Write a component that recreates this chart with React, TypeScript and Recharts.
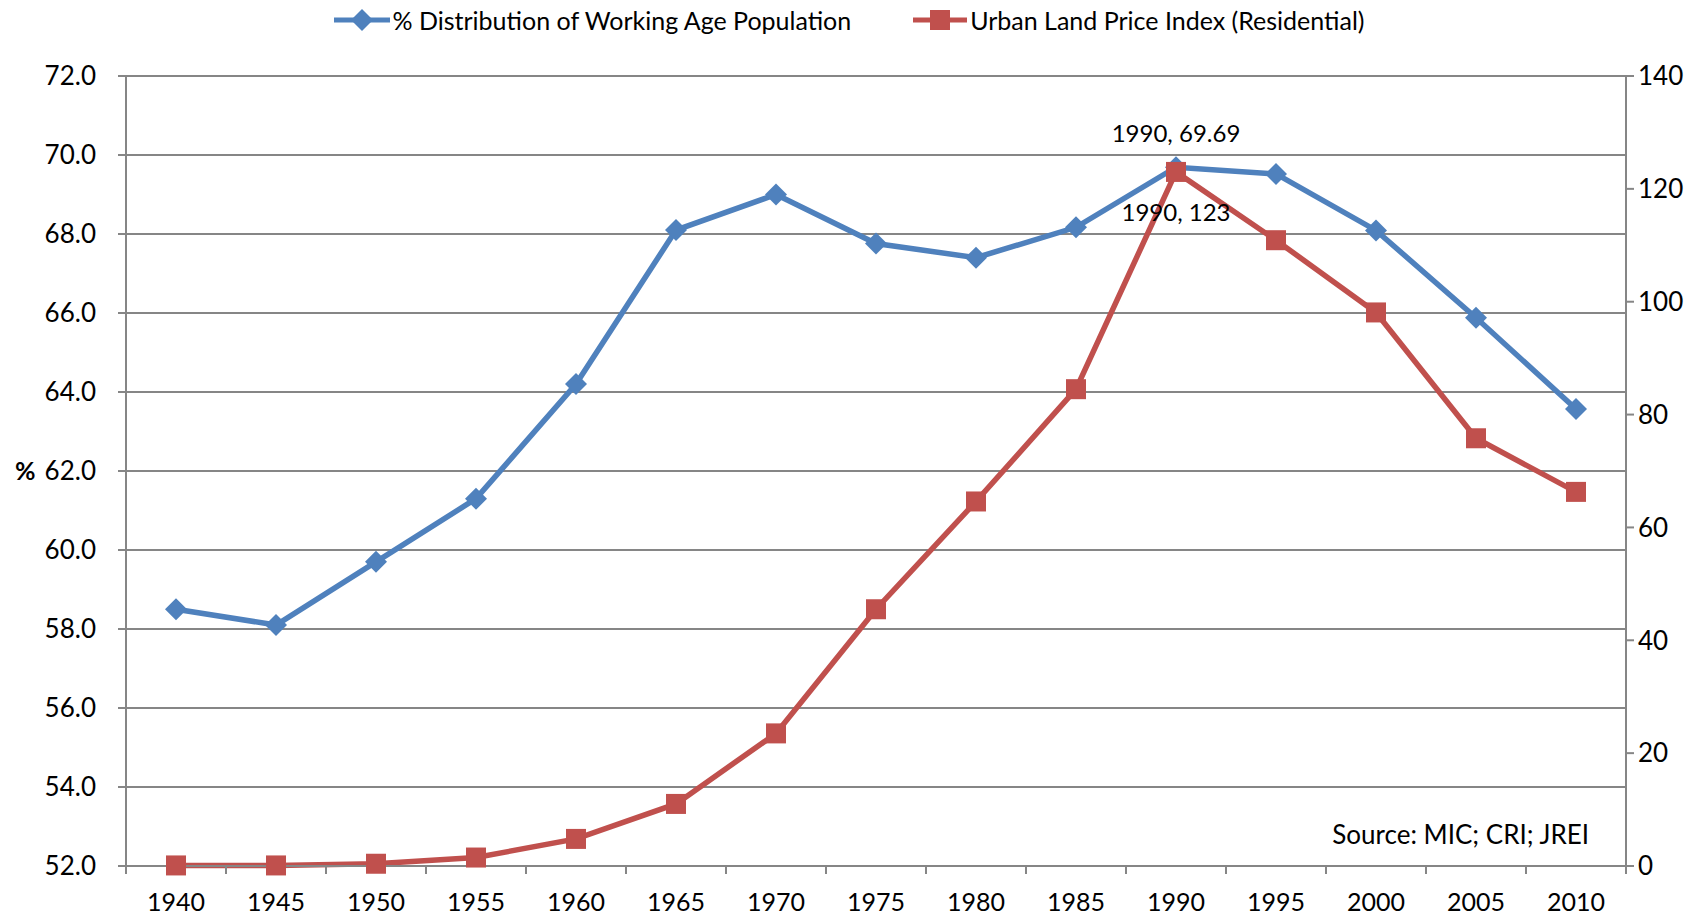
import React from 'react';
import { ComposedChart, Line, XAxis, YAxis, CartesianGrid, Legend, LabelList } from 'recharts';

const years = [1940, 1945, 1950, 1955, 1960, 1965, 1970, 1975, 1980, 1985, 1990, 1995, 2000, 2005, 2010];
const workingAgePct = [58.5, 58.1, 59.7, 61.3, 64.2, 68.1, 69.0, 67.76, 67.4, 68.17, 69.69, 69.52, 68.09, 65.88, 63.57];
const landPriceIndex = [0.1, 0.1, 0.4, 1.5, 4.8, 11.0, 23.5, 45.5, 64.6, 84.5, 123, 110.9, 98.1, 75.8, 66.3];
const leftTicks = [52, 54, 56, 58, 60, 62, 64, 66, 68, 70, 72];
const rightTicks = [0, 20, 40, 60, 80, 100, 120, 140];
const seriesNames = ['% Distribution of Working Age Population', 'Urban Land Price Index (Residential)'];
const sourceText = 'Source: MIC; CRI; JREI';
const labelYear = 1990;

const BLUE = '#4F81BD';
const RED = '#C0504D';
const GRID = '#868686';
const FONT = 'Lato, "Open Sans", sans-serif';
const FS = 25;
const TICK_FS = 26;

const data = years.map((y, i) => ({ year: y, pct: workingAgePct[i], price: landPriceIndex[i] }));
const halfStep = (years[1] - years[0]) / 2;
const boundaries = [...years.map((y) => y - halfStep), years[years.length - 1] + halfStep];
const xTicks = [...years, ...boundaries].sort((a, b) => a - b);
const labelIdx = years.indexOf(labelYear);

const Diamond = (props: any) => {
  const { cx, cy } = props;
  if (cx == null || cy == null) return null;
  const r = 11;
  return <polygon points={`${cx},${cy - r} ${cx + r},${cy} ${cx},${cy + r} ${cx - r},${cy}`} fill={BLUE} stroke="none" />;
};

const Square = (props: any) => {
  const { cx, cy } = props;
  if (cx == null || cy == null) return null;
  const s = 20;
  return <rect x={cx - s / 2} y={cy - s / 2} width={s} height={s} fill={RED} stroke="none" />;
};

const XTick = (props: any) => {
  const { x, y, payload } = props;
  const v = payload.value;
  if (years.includes(v)) {
    return (
      <text x={x} y={y + 35} textAnchor="middle" dominantBaseline="central" fontFamily={FONT} fontSize={FS} fill="#000">
        {v}
      </text>
    );
  }
  return <line x1={x} y1={y} x2={x} y2={y + 8} stroke={GRID} strokeWidth={2} />;
};

const renderLegend = () => (
  <div style={{ display: 'flex', justifyContent: 'center', alignItems: 'center', gap: 62, fontFamily: FONT, fontSize: FS, color: '#000', paddingRight: 8 }}>
    <div style={{ display: 'flex', alignItems: 'center' }}>
      <svg width={56} height={24} style={{ marginRight: 3 }}>
        <line x1={0} y1={12} x2={56} y2={12} stroke={BLUE} strokeWidth={5} />
        <polygon points="28,1 39,12 28,23 17,12" fill={BLUE} />
      </svg>
      <span>{seriesNames[0]}</span>
    </div>
    <div style={{ display: 'flex', alignItems: 'center' }}>
      <svg width={54} height={24} style={{ marginRight: 3 }}>
        <line x1={0} y1={12} x2={54} y2={12} stroke={RED} strokeWidth={5} />
        <rect x={17} y={2} width={20} height={20} fill={RED} />
      </svg>
      <span>{seriesNames[1]}</span>
    </div>
  </div>
);

const makeLabel = (dy: number) => (p: any) => {
  if (p.index !== labelIdx) return null;
  const x = p.x ?? p.viewBox?.x;
  const y = p.y ?? p.viewBox?.y;
  return (
    <text x={x} y={y + dy} textAnchor="middle" dominantBaseline="central" fontFamily={FONT} fontSize={24} fill="#000">
      {`${years[labelIdx]}, ${p.value}`}
    </text>
  );
};

export default function App() {
  return (
    <div style={{ position: 'absolute', left: 0, top: 0, width: 1706, height: 917, background: '#fff' }}>
      <ComposedChart width={1706} height={917} data={data} margin={{ top: 76, right: 0, bottom: 0, left: 0 }}>
        <CartesianGrid yAxisId="left" vertical={false} stroke={GRID} strokeWidth={2} />
        <XAxis
          dataKey="year"
          type="number"
          domain={[boundaries[0], boundaries[boundaries.length - 1]]}
          ticks={xTicks}
          interval={0}
          tickLine={false}
          tickSize={0}
          tickMargin={0}
          height={51}
          axisLine={{ stroke: GRID, strokeWidth: 2 }}
          tick={XTick}
        />
        <YAxis
          yAxisId="left"
          domain={[52, 72]}
          ticks={leftTicks}
          interval={0}
          width={126}
          tickSize={8}
          tickMargin={22}
          tickFormatter={(v: number) => v.toFixed(1)}
          axisLine={{ stroke: GRID, strokeWidth: 2 }}
          tickLine={{ stroke: GRID, strokeWidth: 2 }}
          tick={{ fontFamily: FONT, fontSize: TICK_FS, fill: '#000' }}
          label={{ value: '%', position: 'insideLeft', offset: 15, fontFamily: FONT, fontSize: FS, fontWeight: 'bold', fill: '#000' }}
        />
        <YAxis
          yAxisId="right"
          orientation="right"
          domain={[0, 140]}
          ticks={rightTicks}
          interval={0}
          width={80}
          tickSize={8}
          tickMargin={4}
          axisLine={{ stroke: GRID, strokeWidth: 2 }}
          tickLine={{ stroke: GRID, strokeWidth: 2 }}
          tick={{ fontFamily: FONT, fontSize: TICK_FS, fill: '#000', textAnchor: 'start' }}
        />
        <Legend
          verticalAlign="middle"
          layout="horizontal"
          align="center"
          content={renderLegend}
          wrapperStyle={{ top: 5, left: 0, width: 1706, height: 30 }}
        />
        <Line
          yAxisId="left"
          dataKey="pct"
          name={seriesNames[0]}
          stroke={BLUE}
          strokeWidth={5.5}
          dot={<Diamond />}
          activeDot={false}
          isAnimationActive={false}
        >
          <LabelList dataKey="pct" content={makeLabel(-35)} />
        </Line>
        <Line
          yAxisId="right"
          dataKey="price"
          name={seriesNames[1]}
          stroke={RED}
          strokeWidth={5.5}
          dot={<Square />}
          activeDot={false}
          isAnimationActive={false}
        >
          <LabelList dataKey="price" content={makeLabel(40)} />
        </Line>
      </ComposedChart>
      <div
        style={{
          position: 'absolute',
          left: 0,
          top: 818,
          width: 1589,
          textAlign: 'right',
          fontFamily: FONT,
          fontSize: 26,
          lineHeight: '32px',
          color: '#000',
        }}
      >
        {sourceText}
      </div>
    </div>
  );
}
